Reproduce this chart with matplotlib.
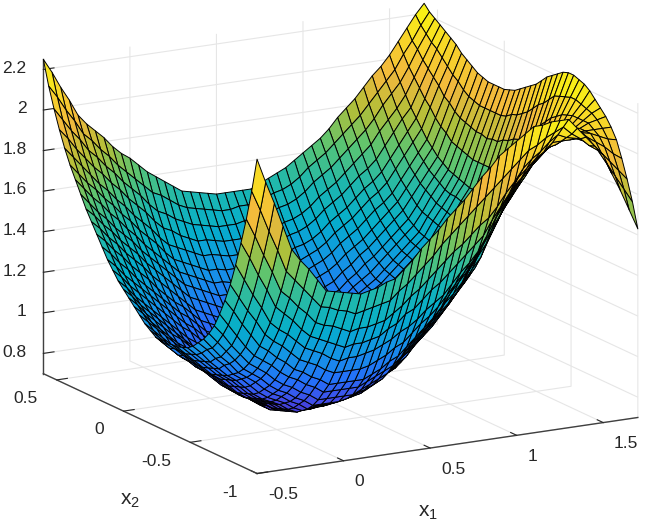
import numpy as np
import matplotlib
matplotlib.use("Agg")
import matplotlib.pyplot as plt
from matplotlib.colors import LinearSegmentedColormap

plt.rcParams['font.family'] = ['Liberation Sans', 'DejaVu Sans']
plt.rcParams['mathtext.fontset'] = 'custom'
plt.rcParams['mathtext.rm'] = 'Liberation Sans'
plt.rcParams['mathtext.it'] = 'Liberation Sans'

x1 = [-0.5, -0.45, -0.4, -0.35, -0.3, -0.25, -0.2, -0.15, -0.1, -0.05, 0, 0.05, 0.1, 0.15, 0.2,
      0.25, 0.3, 0.35, 0.4, 0.45, 0.5, 0.55, 0.6, 0.65, 0.7, 0.75, 0.8, 0.85, 0.9, 0.95, 1.0,
      1.05, 1.1, 1.15, 1.2, 1.25, 1.3, 1.35, 1.4, 1.45, 1.5, 1.55, 1.6, 1.65, 1.7]
x2 = [-1, -0.96, -0.92, -0.88, -0.84, -0.8, -0.76, -0.72, -0.68, -0.64, -0.6, -0.56, -0.52, -0.48,
      -0.44, -0.4, -0.36, -0.32, -0.28, -0.24, -0.2, -0.16, -0.12, -0.08, -0.04, 0, 0.04, 0.08,
      0.12, 0.16, 0.2, 0.24, 0.28, 0.32, 0.36, 0.4, 0.44, 0.48, 0.52, 0.56, 0.6]

# one list per x1 value, running along x2
z_cols = [
    [2.25,2.08,1.93,1.80,1.68,1.57,1.48,1.40,1.33,1.28,1.24,1.21,1.18,1.16,1.15,1.14,1.14,1.13,1.13,1.14,1.16,1.18,1.21,1.24,1.27,1.30,1.33,1.37,1.41,1.46,1.51,1.56,1.61,1.67,1.73,1.79,1.86,1.94,2.03,2.13,2.25],
    [2.13,1.98,1.84,1.72,1.60,1.50,1.42,1.34,1.28,1.23,1.19,1.17,1.14,1.12,1.11,1.10,1.10,1.10,1.09,1.10,1.12,1.14,1.17,1.20,1.23,1.26,1.29,1.33,1.37,1.42,1.47,1.52,1.57,1.62,1.68,1.74,1.81,1.89,1.97,2.07,2.18],
    [2.02,1.87,1.74,1.63,1.52,1.43,1.35,1.28,1.22,1.18,1.14,1.12,1.09,1.08,1.07,1.06,1.06,1.06,1.05,1.06,1.08,1.10,1.13,1.15,1.18,1.21,1.24,1.28,1.32,1.37,1.42,1.47,1.52,1.57,1.63,1.69,1.76,1.83,1.91,2.00,2.10],
    [1.90,1.77,1.65,1.55,1.45,1.37,1.29,1.22,1.17,1.13,1.10,1.08,1.05,1.04,1.03,1.02,1.02,1.02,1.02,1.02,1.04,1.06,1.09,1.11,1.14,1.17,1.20,1.24,1.28,1.33,1.38,1.43,1.48,1.53,1.59,1.65,1.71,1.78,1.86,1.94,2.03],
    [1.78,1.66,1.55,1.46,1.37,1.30,1.23,1.17,1.12,1.08,1.05,1.03,1.01,1.00,.99,.98,.98,.98,.98,.99,1.00,1.02,1.05,1.07,1.10,1.13,1.16,1.20,1.24,1.28,1.33,1.38,1.43,1.48,1.54,1.60,1.66,1.73,1.80,1.87,1.95],
    [1.72,1.61,1.51,1.42,1.33,1.26,1.20,1.14,1.09,1.05,1.02,1.00,.98,.97,.96,.95,.95,.95,.95,.96,.97,.99,1.01,1.03,1.06,1.09,1.12,1.16,1.20,1.24,1.29,1.34,1.39,1.44,1.50,1.56,1.62,1.69,1.76,1.83,1.90],
    [1.67,1.56,1.46,1.38,1.30,1.23,1.16,1.11,1.06,1.02,.99,.96,.94,.93,.92,.91,.91,.91,.91,.92,.93,.95,.98,1.00,1.03,1.05,1.08,1.12,1.16,1.20,1.25,1.30,1.35,1.40,1.45,1.51,1.57,1.64,1.71,1.78,1.86],
    [1.61,1.51,1.42,1.33,1.26,1.19,1.13,1.07,1.02,.98,.95,.92,.90,.89,.88,.87,.87,.87,.87,.88,.89,.91,.94,.96,.99,1.01,1.04,1.08,1.12,1.16,1.20,1.25,1.30,1.35,1.41,1.47,1.53,1.60,1.67,1.74,1.82],
    [1.55,1.46,1.37,1.29,1.22,1.15,1.09,1.04,.99,.95,.92,.89,.87,.86,.85,.84,.84,.84,.84,.85,.86,.88,.90,.92,.95,.97,1.00,1.04,1.08,1.12,1.16,1.21,1.26,1.31,1.36,1.42,1.48,1.55,1.62,1.69,1.77],
    [1.54,1.45,1.35,1.27,1.20,1.13,1.07,1.02,.97,.93,.90,.87,.85,.84,.83,.82,.82,.81,.81,.82,.83,.85,.87,.89,.92,.94,.97,1.01,1.04,1.08,1.12,1.17,1.22,1.27,1.32,1.38,1.44,1.51,1.58,1.65,1.73],
    [1.53,1.43,1.34,1.25,1.18,1.11,1.04,.99,.94,.90,.87,.85,.83,.82,.81,.80,.79,.79,.79,.79,.80,.82,.84,.86,.88,.91,.94,.97,1.01,1.05,1.09,1.13,1.18,1.23,1.28,1.34,1.40,1.47,1.54,1.61,1.70],
    [1.52,1.42,1.32,1.23,1.15,1.08,1.02,.97,.92,.88,.85,.82,.80,.79,.78,.77,.77,.76,.76,.76,.77,.78,.80,.82,.85,.87,.90,.94,.97,1.01,1.05,1.09,1.14,1.19,1.24,1.29,1.35,1.42,1.49,1.57,1.66],
    [1.51,1.40,1.30,1.21,1.13,1.06,.99,.94,.89,.85,.82,.80,.78,.77,.76,.75,.74,.73,.73,.73,.74,.75,.77,.79,.81,.84,.87,.90,.93,.97,1.01,1.05,1.10,1.15,1.20,1.25,1.31,1.38,1.45,1.53,1.62],
    [1.52,1.41,1.31,1.22,1.14,1.06,.99,.94,.89,.85,.83,.81,.79,.77,.76,.75,.74,.73,.73,.73,.73,.74,.76,.78,.80,.83,.86,.89,.92,.95,.99,1.03,1.08,1.13,1.18,1.23,1.29,1.36,1.43,1.51,1.59],
    [1.53,1.42,1.31,1.22,1.14,1.06,.99,.94,.89,.85,.83,.81,.79,.77,.76,.74,.73,.72,.72,.72,.72,.73,.75,.77,.79,.81,.84,.87,.90,.93,.97,1.01,1.06,1.11,1.16,1.21,1.27,1.33,1.40,1.48,1.56],
    [1.55,1.43,1.32,1.23,1.15,1.06,.99,.94,.89,.85,.83,.81,.79,.78,.76,.74,.72,.71,.71,.71,.71,.72,.74,.76,.78,.80,.82,.85,.88,.91,.95,.99,1.04,1.09,1.14,1.19,1.25,1.31,1.38,1.45,1.53],
    [1.56,1.44,1.33,1.24,1.16,1.07,.99,.94,.89,.86,.84,.82,.80,.78,.76,.74,.72,.71,.71,.71,.71,.72,.73,.75,.77,.79,.81,.84,.87,.90,.94,.98,1.02,1.07,1.12,1.17,1.23,1.29,1.36,1.43,1.50],
    [1.60,1.48,1.36,1.27,1.18,1.09,1.01,.96,.91,.88,.86,.83,.81,.79,.77,.75,.73,.72,.72,.72,.72,.73,.74,.75,.77,.79,.81,.84,.87,.90,.94,.98,1.02,1.07,1.12,1.17,1.23,1.29,1.35,1.42,1.49],
    [1.64,1.51,1.39,1.29,1.20,1.11,1.03,.98,.93,.89,.87,.84,.82,.79,.77,.75,.74,.73,.72,.72,.72,.73,.74,.75,.77,.79,.81,.84,.87,.90,.94,.98,1.02,1.06,1.11,1.16,1.22,1.28,1.34,1.41,1.48],
    [1.69,1.55,1.43,1.33,1.23,1.14,1.06,1.00,.95,.91,.89,.86,.83,.80,.78,.76,.75,.74,.73,.73,.73,.74,.75,.76,.78,.80,.82,.84,.87,.90,.94,.98,1.02,1.06,1.11,1.16,1.21,1.27,1.33,1.40,1.47],
    [1.73,1.59,1.46,1.35,1.25,1.16,1.08,1.02,.97,.93,.90,.87,.84,.81,.79,.77,.76,.75,.74,.74,.74,.74,.75,.76,.78,.80,.82,.84,.87,.90,.94,.98,1.02,1.06,1.11,1.16,1.21,1.27,1.33,1.39,1.46],
    [1.77,1.63,1.50,1.39,1.28,1.20,1.12,1.06,1.01,.97,.94,.90,.87,.84,.81,.79,.78,.77,.76,.76,.76,.76,.77,.78,.80,.81,.83,.85,.88,.91,.95,.99,1.03,1.07,1.12,1.17,1.22,1.27,1.33,1.39,1.46],
    [1.82,1.68,1.54,1.43,1.32,1.24,1.16,1.11,1.06,1.01,.97,.93,.90,.86,.84,.82,.81,.80,.79,.78,.78,.78,.79,.80,.81,.83,.85,.87,.90,.93,.96,1.00,1.04,1.08,1.12,1.17,1.22,1.28,1.34,1.40,1.46],
    [1.86,1.72,1.58,1.46,1.35,1.27,1.20,1.15,1.10,1.05,1.01,.96,.92,.89,.86,.84,.83,.82,.81,.80,.80,.80,.80,.81,.82,.84,.86,.88,.91,.94,.97,1.00,1.04,1.08,1.13,1.17,1.22,1.28,1.34,1.40,1.46],
    [1.90,1.76,1.62,1.50,1.38,1.31,1.24,1.19,1.14,1.09,1.04,.99,.95,.91,.88,.86,.85,.84,.83,.82,.82,.82,.82,.83,.84,.85,.87,.89,.92,.95,.98,1.01,1.05,1.09,1.13,1.18,1.23,1.28,1.34,1.40,1.46],
    [1.95,1.80,1.65,1.54,1.43,1.36,1.29,1.24,1.19,1.14,1.09,1.04,1.00,.96,.92,.90,.89,.88,.87,.86,.86,.86,.86,.87,.88,.89,.90,.92,.94,.97,1.00,1.03,1.07,1.11,1.15,1.20,1.25,1.30,1.36,1.42,1.48],
    [2.00,1.84,1.69,1.58,1.48,1.41,1.35,1.29,1.23,1.18,1.13,1.08,1.04,1.00,.97,.95,.93,.92,.91,.90,.90,.90,.90,.90,.91,.92,.94,.95,.97,1.00,1.02,1.05,1.09,1.13,1.17,1.22,1.27,1.32,1.38,1.44,1.50],
    [2.04,1.88,1.73,1.62,1.52,1.46,1.40,1.33,1.27,1.22,1.17,1.12,1.08,1.05,1.01,.99,.97,.95,.94,.93,.93,.93,.93,.93,.94,.95,.97,.98,.99,1.02,1.04,1.07,1.11,1.15,1.19,1.23,1.28,1.33,1.39,1.45,1.52],
    [2.09,1.92,1.76,1.66,1.57,1.51,1.45,1.38,1.32,1.27,1.22,1.17,1.13,1.09,1.06,1.03,1.01,.99,.98,.97,.97,.97,.97,.97,.98,.99,1.00,1.01,1.02,1.04,1.06,1.09,1.13,1.17,1.21,1.25,1.30,1.35,1.41,1.47,1.54],
    [2.12,1.96,1.81,1.73,1.64,1.59,1.53,1.46,1.39,1.33,1.27,1.22,1.18,1.14,1.10,1.07,1.05,1.03,1.02,1.01,1.01,1.01,1.01,1.01,1.02,1.03,1.04,1.05,1.06,1.08,1.10,1.13,1.16,1.20,1.24,1.28,1.33,1.38,1.44,1.50,1.57],
    [2.15,2.00,1.87,1.79,1.72,1.66,1.60,1.53,1.46,1.40,1.33,1.28,1.23,1.19,1.15,1.12,1.10,1.08,1.07,1.06,1.05,1.05,1.05,1.05,1.06,1.06,1.07,1.08,1.09,1.11,1.13,1.16,1.20,1.24,1.28,1.32,1.37,1.42,1.48,1.54,1.60],
    [2.18,2.04,1.92,1.85,1.79,1.74,1.68,1.61,1.53,1.46,1.39,1.33,1.28,1.23,1.20,1.17,1.14,1.12,1.11,1.10,1.09,1.09,1.09,1.09,1.09,1.10,1.10,1.11,1.12,1.14,1.17,1.20,1.23,1.27,1.31,1.35,1.40,1.45,1.51,1.57,1.63],
    [2.21,2.08,1.98,1.92,1.86,1.81,1.75,1.68,1.60,1.52,1.44,1.38,1.33,1.28,1.24,1.21,1.18,1.16,1.15,1.14,1.13,1.13,1.13,1.13,1.13,1.13,1.14,1.15,1.16,1.18,1.20,1.23,1.26,1.30,1.34,1.38,1.43,1.48,1.54,1.60,1.66],
    [2.21,2.10,2.02,1.96,1.90,1.86,1.80,1.74,1.67,1.60,1.53,1.47,1.42,1.36,1.31,1.27,1.24,1.21,1.19,1.18,1.17,1.17,1.17,1.17,1.17,1.17,1.18,1.19,1.20,1.22,1.24,1.27,1.30,1.34,1.38,1.42,1.47,1.52,1.58,1.64,1.70],
    [2.22,2.13,2.05,2.00,1.95,1.91,1.86,1.80,1.74,1.68,1.61,1.56,1.51,1.44,1.39,1.34,1.29,1.26,1.24,1.23,1.22,1.21,1.21,1.21,1.21,1.21,1.22,1.23,1.24,1.26,1.28,1.31,1.34,1.38,1.42,1.46,1.51,1.56,1.62,1.68,1.75],
    [2.22,2.15,2.09,2.03,1.99,1.95,1.91,1.86,1.81,1.75,1.70,1.64,1.59,1.52,1.46,1.40,1.35,1.31,1.28,1.27,1.26,1.25,1.25,1.25,1.25,1.25,1.26,1.27,1.28,1.30,1.32,1.35,1.38,1.41,1.45,1.49,1.54,1.60,1.66,1.72,1.79],
    [2.22,2.17,2.12,2.07,2.03,2.00,1.96,1.92,1.88,1.83,1.78,1.73,1.68,1.60,1.53,1.46,1.40,1.36,1.32,1.31,1.30,1.29,1.29,1.29,1.29,1.29,1.30,1.31,1.32,1.34,1.36,1.39,1.42,1.45,1.49,1.53,1.58,1.64,1.70,1.76,1.83],
    [2.17,2.13,2.10,2.07,2.04,2.02,1.99,1.95,1.91,1.87,1.82,1.77,1.73,1.65,1.59,1.53,1.47,1.43,1.39,1.38,1.37,1.36,1.36,1.36,1.36,1.36,1.37,1.38,1.39,1.40,1.42,1.45,1.48,1.51,1.55,1.59,1.64,1.70,1.75,1.81,1.88],
    [2.12,2.10,2.09,2.07,2.06,2.04,2.01,1.98,1.95,1.91,1.86,1.82,1.77,1.71,1.65,1.60,1.54,1.50,1.46,1.45,1.44,1.43,1.43,1.42,1.42,1.42,1.43,1.44,1.45,1.47,1.49,1.51,1.54,1.57,1.61,1.65,1.70,1.75,1.81,1.86,1.93],
    [2.07,2.06,2.07,2.07,2.07,2.05,2.04,2.01,1.98,1.94,1.90,1.86,1.82,1.76,1.71,1.66,1.61,1.57,1.53,1.52,1.51,1.50,1.49,1.49,1.49,1.49,1.50,1.50,1.51,1.53,1.55,1.57,1.60,1.63,1.67,1.71,1.76,1.80,1.86,1.91,1.97],
    [2.02,2.03,2.05,2.07,2.08,2.07,2.06,2.04,2.01,1.98,1.94,1.90,1.86,1.82,1.77,1.73,1.68,1.64,1.60,1.59,1.58,1.57,1.56,1.55,1.55,1.55,1.56,1.57,1.58,1.59,1.61,1.63,1.66,1.69,1.73,1.77,1.81,1.86,1.91,1.96,2.02],
    [1.92,1.96,2.00,2.04,2.07,2.07,2.07,2.06,2.05,2.03,2.01,1.98,1.95,1.92,1.89,1.85,1.81,1.77,1.74,1.72,1.71,1.69,1.68,1.67,1.67,1.67,1.67,1.68,1.69,1.70,1.71,1.74,1.76,1.79,1.83,1.86,1.90,1.94,1.98,2.03,2.08],
    [1.83,1.89,1.95,2.01,2.05,2.07,2.09,2.09,2.09,2.09,2.08,2.07,2.05,2.03,2.00,1.97,1.94,1.91,1.87,1.85,1.84,1.82,1.81,1.79,1.79,1.78,1.79,1.79,1.80,1.81,1.82,1.84,1.87,1.89,1.93,1.96,1.99,2.02,2.06,2.09,2.14],
    [1.73,1.82,1.90,1.97,2.03,2.07,2.10,2.12,2.13,2.14,2.15,2.15,2.14,2.13,2.12,2.09,2.06,2.04,2.01,1.98,1.96,1.94,1.93,1.91,1.90,1.90,1.90,1.90,1.90,1.91,1.92,1.94,1.97,1.99,2.02,2.05,2.08,2.10,2.13,2.16,2.20],
    [1.63,1.75,1.85,1.94,2.02,2.07,2.11,2.14,2.17,2.20,2.22,2.23,2.24,2.24,2.23,2.21,2.19,2.17,2.14,2.11,2.09,2.07,2.05,2.03,2.02,2.01,2.01,2.01,2.01,2.02,2.03,2.05,2.07,2.09,2.12,2.14,2.16,2.18,2.20,2.22,2.25],
]

x_ticks = [-0.5, 0, 0.5, 1, 1.5]
x_tick_labels = ['-0.5', '0', '0.5', '1', '1.5']
y_ticks = [-1, -0.5, 0, 0.5]
y_tick_labels = ['-1', '-0.5', '0', '0.5']
z_ticks = [0.8, 1, 1.2, 1.4, 1.6, 1.8, 2, 2.2]
z_tick_labels = ['0.8', '1', '1.2', '1.4', '1.6', '1.8', '2', '2.2']

parula = LinearSegmentedColormap.from_list('parula', [
    (0.2422, 0.1504, 0.6603), (0.2700, 0.2800, 0.9000), (0.1400, 0.4400, 0.9800),
    (0.0800, 0.5800, 0.9000), (0.0200, 0.6800, 0.8000), (0.1200, 0.7200, 0.6800),
    (0.3500, 0.7700, 0.4500), (0.7000, 0.7500, 0.2200), (0.9500, 0.7200, 0.2400),
    (0.9700, 0.8400, 0.1600), (0.9763, 0.9831, 0.0538)])

X, Y = np.meshgrid(x1, x2, indexing='ij')
Z = np.array(z_cols)

fig = plt.figure(figsize=(6.46, 5.25), dpi=100)
ax = fig.add_axes([10.5 / 646, 17 / 525, 1, 1], projection='3d', proj_type='ortho')
ax.view_init(elev=15.2, azim=-119.3)
ax.set_box_aspect((1, 1, 0.746), zoom=1.291)

surf = ax.plot_surface(X, Y, Z, cmap=parula, vmin=0.7, vmax=2.25, rstride=1, cstride=1,
                       edgecolor='#000000', linewidth=0.7, shade=False, antialiased=True)
surf.set_clip_on(False)

ax.set_xlim(-0.5, 1.7)
ax.set_ylim(-1, 0.6)
ax.set_zlim(0.7, 2.25)
ax.set_xticks(x_ticks, x_tick_labels, ha='left', va='center')
ax.set_yticks(y_ticks, y_tick_labels, ha='right', va='center')
ax.set_zticks(z_ticks, z_tick_labels, ha='right', va='center')
ax.tick_params(labelsize=12.5, colors='#262626', pad=2)
ax.tick_params(axis='z', pad=-2.5)

for axis in (ax.xaxis, ax.yaxis, ax.zaxis):
    axis.set_pane_color((1, 1, 1, 0))
    axis.pane.set_edgecolor('#e6e6e6')
    axis._axinfo['grid'].update(color='#e6e6e6', linewidth=0.8)
    axis._axinfo['tick'].update(inward_factor=0, outward_factor=0.35)
    axis.line.set_color('#404040')
    axis.line.set_linewidth(1.0)

ax.zaxis.set_ticks_position('upper')
fig.text(428 / 646, 1 - 512 / 525, '$\\mathregular{x_1}$', fontsize=15, color='#262626', ha='center', va='center')
fig.text(130 / 646, 1 - 500 / 525, '$\\mathregular{x_2}$', fontsize=15, color='#262626', ha='center', va='center')

fig.savefig('out.png', dpi=100)
